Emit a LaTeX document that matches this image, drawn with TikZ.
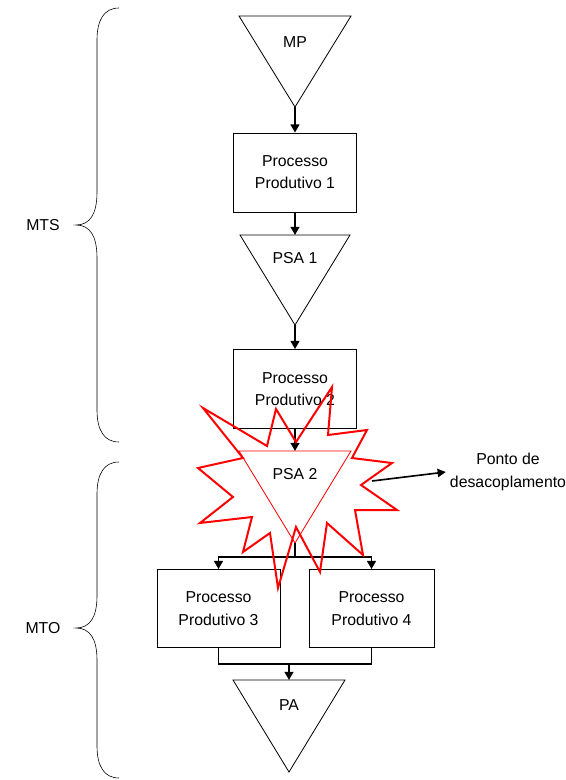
\documentclass[tikz,border=0pt]{standalone}
\usepackage{fontspec}
\setmainfont{Liberation Sans}
\usetikzlibrary{arrows.meta, positioning, calc}

\begin{document}
\begin{tikzpicture}[
    x=0.03cm, y=-0.03cm,
    procbox/.style={draw=black, line width=0.7pt, minimum width=3.69cm, minimum height=2.37cm, align=center, inner sep=0pt, font=\fontsize{13.5}{19}\selectfont},
    tri/.style={draw=black, line width=0.7pt},
    trilabel/.style={font=\fontsize{13.5}{19}\selectfont},
    flowarrow/.style={-{Triangle[length=7pt, width=7.5pt]}, line width=1.7pt},
    flowline/.style={line width=1.7pt},
    brace/.style={draw=black, line width=0.5pt},
    burst/.style={draw=red, line width=1.7pt, line join=miter}
]
    \useasboundingbox (0,0) rectangle (566,780);

    % Stock points (inverted triangles)
    \draw[tri] (239,16) -- (351,16) -- (295,107) -- cycle;
    \coordinate (mp-apex) at (295,107);
    \node[trilabel] (mp) at (295,42) {MP};

    \draw[tri] (240,235) -- (350,235) -- (295,325) -- cycle;
    \coordinate (psa1-top) at (295,235);
    \coordinate (psa1-apex) at (295,325);
    \node[trilabel] (psa1) at (295,258) {PSA 1};

    \draw[tri, draw=red] (239,451) -- (351,451) -- (295,543) -- cycle;
    \coordinate (psa2-top) at (295,451);
    \coordinate (psa2-apex) at (295,543);
    \node[trilabel] (psa2) at (295,474) {PSA 2};

    \draw[tri] (233,680) -- (345,680) -- (289,772) -- cycle;
    \coordinate (pa-top) at (289,680);
    \node[trilabel] (pa) at (289,705) {PA};

    % Production processes
    \node[procbox] (pp1) at (295,172.5) {Processo\\Produtivo 1};
    \node[procbox] (pp2) at (295,389) {Processo\\Produtivo 2};
    \node[procbox, minimum width=3.69cm, minimum height=2.34cm] (pp3) at (218.5,608.5) {Processo\\Produtivo 3};
    \node[procbox, minimum width=3.75cm, minimum height=2.34cm] (pp4) at (371.5,608.5) {Processo\\Produtivo 4};

    % Flow
    \draw[flowarrow] (mp-apex) -- (pp1);
    \draw[flowarrow] (pp1) -- (psa1-top);
    \draw[flowarrow] (psa1-apex) -- (pp2);
    \draw[flowarrow] (pp2) -- (psa2-top);

    \coordinate (split) at (295,557);
    \draw[flowline] (psa2-apex) -- (split);
    \draw[flowarrow] (split) -| (pp3);
    \draw[flowarrow] (split) -| (pp4);

    \coordinate (merge) at (289,664);
    \draw[flowline] (pp3.south) |- (merge) -| (pp4.south);
    \draw[flowarrow] (merge) -- (pa-top);

    % Decoupling point
    \draw[burst] (203,408) -- (267,446) -- (276,409) -- (296,442) -- (332,387)
      -- (328,435) -- (367,430) -- (352,458) -- (392,463) -- (361,485)
      -- (397,510) -- (355,510) -- (363,555) -- (327,523) -- (320,572)
      -- (296,527) -- (278,588) -- (270,533) -- (243,552) -- (252,517)
      -- (200,523) -- (233,497) -- (198,468) -- (243,458) -- cycle;
    \coordinate (burst-east) at (372,481);

    \node[trilabel, align=center] (ponto) at (508,472) {Ponto de\\desacoplamento};
    \draw[-{Triangle[length=7pt, width=7pt]}, line width=1.4pt] (burst-east) -- (ponto.west);

    % Braces
    \draw[brace] (119,8) .. controls (104,8) and (97,20) .. (97,40) -- (97,192)
      .. controls (97,214) and (90,225) .. (76,225)
      .. controls (90,225) and (97,236) .. (97,258) -- (97,410)
      .. controls (97,430) and (104,442) .. (119,442);
    \node[trilabel] (mts) at (43,225) {MTS};

    \draw[brace] (119,462) .. controls (104,462) and (97,474) .. (97,494) -- (97,596)
      .. controls (97,617) and (90,628) .. (76,628)
      .. controls (90,628) and (97,639) .. (97,660) -- (97,746)
      .. controls (97,766) and (104,778) .. (119,778);
    \node[trilabel] (mto) at (43,628) {MTO};
\end{tikzpicture}
\end{document}
